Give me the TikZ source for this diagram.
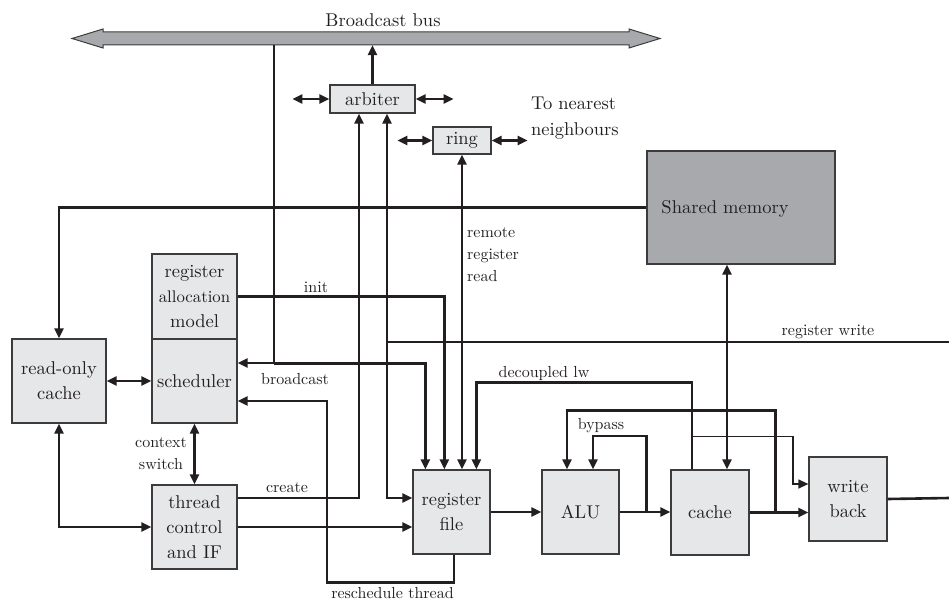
\documentclass[tikz,border=0pt]{standalone}
\usepackage{fontspec}
\setmainfont{lmroman10-regular.otf}
\usetikzlibrary{arrows.meta,calc}
\definecolor{boxfill}{HTML}{E6E7E8}
\definecolor{darkfill}{HTML}{A7A9AC}
\definecolor{ink}{HTML}{231F20}
\definecolor{edge}{HTML}{3C3C3C}
\begin{document}
\begin{tikzpicture}[x=1pt,y=-1pt,
  blk/.style={draw=edge, line width=1.3pt, fill=boxfill, inner sep=0pt, align=center, font=\fontsize{18.5}{25}\selectfont, text=ink},
  lbl/.style={font=\fontsize{16}{22}\selectfont, text=ink, inner sep=0pt, align=center},
  biglbl/.style={font=\fontsize{18.5}{26}\selectfont, text=ink, inner sep=0pt},
  wire/.style={draw=ink, line width=2.6pt},
  arr/.style={wire, -{Triangle[length=10pt,width=9pt]}},
  darr/.style={wire, {Triangle[length=10pt,width=9pt]}-{Triangle[length=10pt,width=9pt]}},
  thinarr/.style={draw=ink, line width=1.3pt, -{Triangle[length=10pt,width=9pt]}},
]
\useasboundingbox (0,0) rectangle (949,602);

% broadcast bus
\filldraw[fill=darkfill, draw=edge, line width=1pt] (72,38.5) -- (103,29) -- (103,32) -- (629,32) -- (629,29) -- (660,38.5) -- (629,48) -- (629,45) -- (103,45) -- (103,48) -- cycle;
\node[inner sep=0pt, minimum width=526pt, minimum height=13pt] (bus) at (366,38.5) {};
\node[biglbl] (buslbl) at (383,20) {Broadcast bus};

% blocks
\node[blk, minimum width=85pt, minimum height=28pt] (arbiter) at (372.5,99) {arbiter};
\node[blk, minimum width=58pt, minimum height=27pt] (ring) at (462,140.5) {ring};
\node[blk, fill=darkfill, minimum width=188pt, minimum height=113pt] (sm) at (741,207.5) {};
\node[biglbl] (smtext) at (725,209) {Shared memory};
\node[blk, minimum width=85pt, minimum height=85pt] (regalloc) at (194.5,296.5) {register\\{\fontsize{16.8}{25}\selectfont allocation}\\model};
\node[blk, minimum width=85pt, minimum height=84pt] (sched) at (194.5,381) {scheduler};
\node[blk, minimum width=94pt, minimum height=84pt] (rocache) at (59,381) {read-only\\cache};
\node[blk, minimum width=85pt, minimum height=84pt] (thread) at (194.5,527) {thread\\control\\and IF};
\node[blk, minimum width=77pt, minimum height=84pt] (regfile) at (451.5,512) {register\\file};
\node[blk, minimum width=77pt, minimum height=84pt] (alu) at (580.5,512) {ALU};
\node[blk, minimum width=78pt, minimum height=85pt] (cache) at (710,512.5) {cache};
\node[blk, minimum width=78pt, minimum height=84pt] (wb) at (848,499) {write\\back};

% labels
\node[biglbl, align=left, anchor=west] (nnlbl) at (531,118) {To nearest\\neighbours};
\node[lbl] (initlbl) at (316,287) {init};
\node[lbl] (bclbl) at (295,379) {broadcast};
\node[lbl] (ctxlbl) at (161,454) {context\\switch};
\node[lbl] (crlbl) at (287,488) {create};
\node[lbl] (rslbl) at (392.5,593) {reschedule thread};
\node[lbl, align=left, anchor=west] (rrlbl) at (467,255) {remote\\register\\read};
\node[lbl] (dlwlbl) at (544,373) {decoupled lw};
\node[lbl] (bplbl) at (601,426) {bypass};
\node[lbl] (rwlbl) at (828,332) {register write};

% coordinates for free ends
\coordinate (rwin) at (949,342);
\coordinate (wbout) at (949,498);

% arbiter / ring connections
\draw[arr] (arbiter.north) -- (arbiter.north |- bus.south);
\draw[darr] (arbiter.west) -- ++(-37,0);
\draw[darr] (arbiter.east) -- ++(38,0);
\draw[darr] (ring.west) -- ++(-35,0);
\draw[darr] (ring.east) -- ++(36,0);
\draw[darr] (ring.south) -- (ring.south |- regfile.north);

% broadcast from bus
\draw[arr] ([xshift=-92pt]bus.south) |- ([yshift=18pt]sched.east);
\draw[arr] ([xshift=-92pt]bus.south) ++(0,318) -| ([xshift=13pt]regfile.north west);

% init
\draw[arr] (regalloc.east) -| ([xshift=32pt]regfile.north west);

% create
\draw[arr] ([yshift=29pt]thread.east) -| ([xshift=-13.5pt]arbiter.south);

% register write
\coordinate (rwj) at ([xshift=14.5pt]arbiter.south);
\draw[darr] (rwj) |- ([yshift=14pt]regfile.west);
\draw[wire] (rwin) -- (rwin -| rwj);

% shared memory
\draw[arr] (sm.west) -| (rocache.north);
\draw[darr] ([xshift=17pt]cache.north) -- ([xshift=17pt]cache.north |- sm.south);

% left side
\draw[darr] (rocache.east) -- (sched.west);
\draw[darr] (sched.south) -- (thread.north);
\draw[darr] (rocache.south) |- (thread.west);
\draw[arr] (thread.east) -- (thread.east -| regfile.west);

% reschedule
\draw[arr] ([xshift=2.5pt]regfile.south) -- ++(0,28) -- ++(-127,0) |- ([yshift=-20pt]sched.east);

% pipeline
\draw[arr] (regfile.east) -- (regfile.east -| alu.west);
\draw[arr] (alu.east) -- (alu.east -| cache.west);
\draw[arr] (cache.east) -- (cache.east -| wb.west);
\draw[wire] (wb.east) -- (wbout);

% decoupled lw
\draw[arr] ([xshift=-18pt]cache.north) -- ++(0,-87) -| ([xshift=64pt]regfile.north west);
\draw[thinarr] ([xshift=-18pt]cache.north) ++(0,-33) -- ++(101,0) |- ([yshift=15pt]wb.west);

% bypasses
\draw[arr] (alu.east) ++(27,0) -- ++(0,-76) -| ([xshift=12.5pt]alu.north);
\draw[arr] (cache.east) ++(26,0) -- ++(0,-102) -| ([xshift=-13.5pt]alu.north);
\end{tikzpicture}
\end{document}
